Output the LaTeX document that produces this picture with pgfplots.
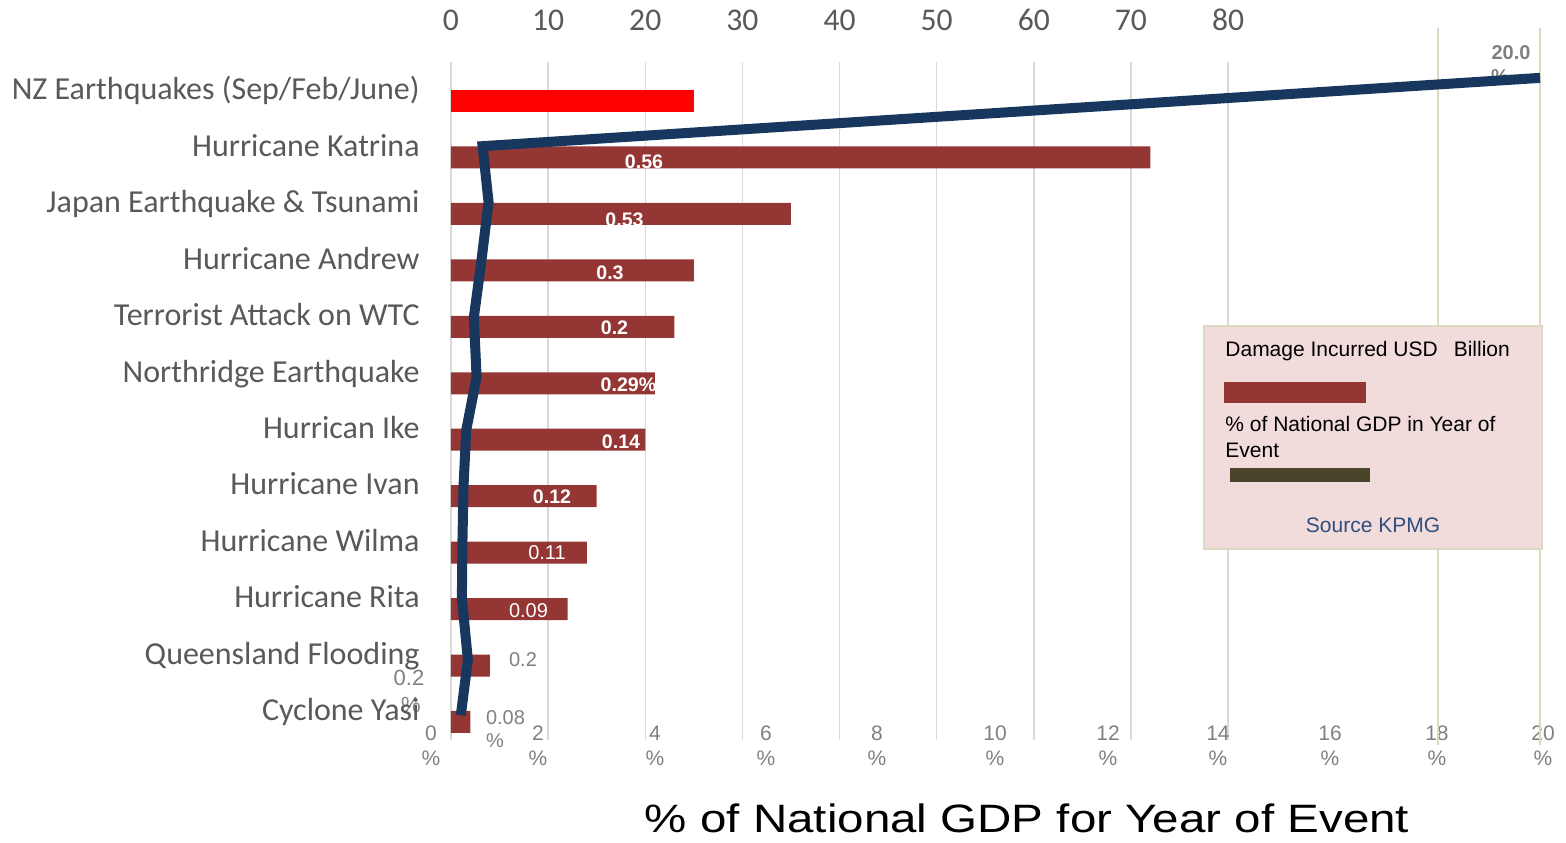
\documentclass[border=0pt]{standalone}
\usepackage{fontspec}
\setmainfont{Liberation Sans}
\newfontfamily\calfont{Carlito}
\newfontfamily\titlefont[FakeStretch=1.2]{Liberation Sans}
\usepackage{pgfplots}
\pgfplotsset{compat=1.18}

\definecolor{barred}{HTML}{943634}
\definecolor{nzred}{HTML}{FF0000}
\definecolor{navy}{HTML}{17375E}
\definecolor{gridgray}{HTML}{D9D9D9}
\definecolor{beige}{HTML}{DDD9C3}
\definecolor{labelgray}{HTML}{595959}
\definecolor{tickgray}{HTML}{808080}
\definecolor{legendfill}{HTML}{F2DCDB}
\definecolor{darkolive}{HTML}{4A452A}
\definecolor{sourceblue}{HTML}{2F4F7F}

% px scope: 1px of the reference = 0.5pt, origin at the plot's lower left corner
\tikzset{px/.style={x=0.5pt, y=-0.5pt, shift={(-451,-740)}},
  dl/.style={font=\bfseries\fontsize{9.8}{11}\selectfont, text=white, inner sep=0pt},
  dlr/.style={font=\fontsize{10}{11}\selectfont, text=white, inner sep=0pt},
  gl/.style={font=\fontsize{10}{11}\selectfont, text=tickgray, inner sep=0pt},
  lg/.style={anchor=base west, inner sep=0pt, font=\fontsize{10.5}{12}\selectfont}}

\begin{document}
\begin{tikzpicture}
\begin{scope}[px]
  \path[use as bounding box] (0,0) rectangle (1566,842);
  \node[font=\bfseries\fontsize{10}{11}\selectfont, text=tickgray, inner sep=0pt] at (1511,53) {20.0};
  \node[font=\bfseries\fontsize{10}{11}\selectfont, text=tickgray, inner sep=0pt] at (1500,77) {\%};
  \node[font=\fontsize{11}{12}\selectfont, text=tickgray, inner sep=0pt] at (409,678) {0.2};
  \node[font=\fontsize{11}{12}\selectfont, text=tickgray, inner sep=0pt] at (411,705) {\%};
\end{scope}

% damage in USD billion (top axis)
\begin{axis}[
  at={(0pt,0pt)}, anchor=south west, scale only axis,
  width=544.5pt, height=339pt,
  xmin=0, xmax=112.12, ymin=-0.691, ymax=11.32, y dir=reverse,
  axis line style={draw=none}, major tick length=0pt,
  xticklabel pos=right,
  xtick={0,10,...,80}, xmajorgrids,
  grid style={draw=gridgray, line width=0.75pt},
  /pgf/number format/assume math mode=true,
  xticklabel style={font=\calfont\fontsize{15.8}{18}\selectfont, text=labelgray,
    anchor=base, inner sep=0pt, yshift=16pt},
  ytick={0,...,11},
  yticklabels={NZ Earthquakes (Sep/Feb/June), Hurricane Katrina,
    Japan Earthquake \& Tsunami, Hurricane Andrew, Terrorist Attack on WTC,
    Northridge Earthquake, Hurrican Ike, Hurricane Ivan, Hurricane Wilma,
    Hurricane Rita, Queensland Flooding, Cyclone Yasi},
  yticklabel style={font=\calfont\fontsize{16}{18}\selectfont, text=labelgray,
    anchor=base east, inner sep=0pt, xshift=-15.5pt, yshift=0.6pt},
]
\addplot[xbar, bar width=0.39, bar shift=0pt, fill=nzred, draw=none]
  coordinates {(25,0)};
\addplot[xbar, bar width=0.39, bar shift=0pt, fill=barred, draw=none]
  coordinates {(72,1) (35,2) (25,3) (23,4) (21,5) (20,6) (15,7) (14,8)
               (12,9) (4,10) (2,11)};
\end{axis}

\begin{scope}[px]
  \node[dl] at (644,161.5) {0.56};
  \node[dl] at (624.5,219.5) {0.53};
  \node[dl] at (610,273) {0.3};
  \node[dl] at (614.5,328) {0.2};
  \node[dl] at (628.5,385) {0.29\%};
  \node[dl] at (621,441.5) {0.14};
  \node[dl] at (552,497) {0.12};
  \node[dlr] at (547,553) {0.11};
  \node[dlr] at (528.5,611) {0.09};
  \node[gl] at (523,660) {0.2};
  \node[gl] at (505.5,717.5) {0.08};
  \node[gl] at (495,741) {\%};
\end{scope}

% % of national GDP (bottom axis)
\begin{axis}[
  at={(-13.6125pt,0pt)}, anchor=south west, scale only axis,
  width=560.835pt, height=339pt,
  xmin=-0.5, xmax=20.1, ymin=-0.691, ymax=11.32, y dir=reverse,
  axis line style={draw=none}, major tick length=0pt, ytick=\empty,
  clip=false,
  xtick={-0.367,1.598,3.747,5.785,7.824,9.991,12.066,14.086,16.143,18.108,20.055},
  xticklabels={{0\\\%},{2\\\%},{4\\\%},{6\\\%},{8\\\%},{10\\\%},{12\\\%},
    {14\\\%},{16\\\%},{18\\\%},{20\\\%}},
  xticklabel style={font=\fontsize{10.5}{12.5}\selectfont, text=tickgray,
    align=center, anchor=north, inner sep=0pt, yshift=7.25pt},
]
\draw[beige, line width=1pt] (axis cs:18.13,-1.29) -- (axis cs:18.13,11.41);
\draw[beige, line width=1pt] (axis cs:20,-1.29) -- (axis cs:20,11.41);
\addplot[navy, line width=5pt, mark=none] coordinates {
  (20.0,-0.41) (0.58,0.80) (0.69,1.79) (0.56,2.82) (0.42,3.83) (0.47,4.89)
  (0.28,5.83) (0.23,6.82) (0.21,7.81) (0.20,8.80) (0.31,9.90) (0.18,10.88)};
\end{axis}

\begin{scope}[px]
  \draw[beige, line width=1pt, fill=legendfill] (1204,326) rectangle (1542,549);
  \node[lg] at (1225,356) {Damage Incurred USD\hspace{8pt}Billion};
  \fill[barred] (1224,382) rectangle (1366,403);
  \node[lg] at (1225,431) {\% of National GDP in Year of};
  \node[lg] at (1225,457) {Event};
  \fill[darkolive] (1230,468) rectangle (1370,482);
  \node[anchor=base, inner sep=0pt, font=\fontsize{10.5}{12}\selectfont, text=sourceblue]
    at (1373,532) {Source KPMG};
  \node[anchor=base, inner sep=0pt, font=\titlefont\fontsize{19.8}{24}\selectfont]
    at (1027,832) {\% of National GDP for Year of Event};
\end{scope}
\end{tikzpicture}
\end{document}
